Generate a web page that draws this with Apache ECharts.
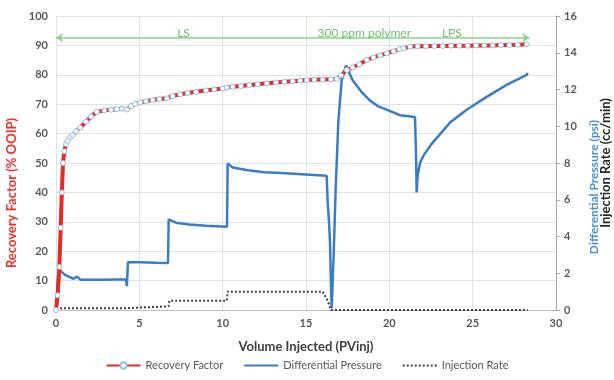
<!DOCTYPE html>
<html>
<head>
<meta charset="utf-8">
<script src="https://cdn.jsdelivr.net/npm/echarts@6/dist/echarts.min.js"></script>
<style>
  html, body { margin: 0; padding: 0; background: #fff; }
  #chart { width: 614px; height: 380px; }
</style>
</head>
<body>
<div id="chart"></div>
<script>
// recovery factor (% OOIP) vs PV injected
const rfX = [0, 0.1, 0.2, 0.28, 0.35, 0.42, 0.5, 0.6, 0.7, 0.85, 1.0, 1.2, 1.45, 1.8, 2.1, 2.45, 2.9, 3.3, 3.65, 3.95,
  4.25, 4.5, 4.75, 5.05, 5.4, 5.8, 6.2, 6.65, 7.0, 7.45, 7.9, 8.4, 9.0, 9.5, 10.0, 10.25, 10.6, 11.1, 11.6, 12.1,
  12.65, 13.2, 13.7, 14.2, 14.65, 15.05, 15.5, 16.0, 16.5, 16.85, 17.1, 17.45, 17.8, 18.2, 18.65, 19.05, 19.45, 19.85, 20.25, 20.6,
  20.85, 21.25, 21.7, 22.2, 22.7, 23.2, 23.7, 24.2, 24.7, 25.2, 25.7, 26.2, 26.7, 27.2, 27.7, 28.24];
const rfY = [0, 5, 14.7, 28, 40, 50, 54, 56.5, 57.5, 58.8, 59.5, 60.8, 62, 64, 65.8, 67.4, 67.9, 68.1, 68.3, 68.5,
  68.2, 69.4, 70.1, 70.6, 71.0, 71.4, 71.8, 72.0, 72.8, 73.4, 73.8, 74.2, 74.7, 75.0, 75.3, 75.7, 75.9, 76.2, 76.5, 76.8,
  77.1, 77.4, 77.6, 77.8, 78.0, 78.2, 78.3, 78.4, 78.5, 78.6, 79.8, 81.6, 82.5, 83.6, 85.0, 85.9, 86.6, 87.3, 88.0, 88.7,
  89.0, 89.6, 89.7, 89.7, 89.8, 89.8, 89.9, 89.9, 89.9, 90.0, 90.0, 90.0, 90.1, 90.1, 90.2, 90.4];

// differential pressure (psi)
const dpX = [0, 0.08, 0.16, 0.3, 0.56, 0.8, 1.06, 1.26, 1.46, 2.0, 3.0, 4.2, 4.25, 4.28, 4.32, 5.0, 6.0, 6.72, 6.76, 7.2,
  8.0, 9.0, 10.26, 10.3, 10.6, 11.5, 12.5, 13.5, 14.5, 15.5, 16.24, 16.3, 16.38, 16.44, 16.5, 16.54, 16.58, 16.66, 16.78, 16.94,
  17.14, 17.4, 17.8, 18.3, 18.84, 19.3, 19.84, 20.64, 21.54, 21.6, 21.64, 21.7, 21.84, 22.05, 22.5, 23.64, 24.64, 25.84, 27.04, 28.24, 28.3];
const dpY = [0, 1.2, 2.2, 2.1, 1.9, 1.8, 1.7, 1.82, 1.65, 1.65, 1.65, 1.67, 1.3, 1.3, 2.6, 2.6, 2.57, 2.56, 4.93, 4.75,
  4.65, 4.58, 4.53, 7.98, 7.75, 7.6, 7.5, 7.45, 7.4, 7.35, 7.3, 5.9, 4.8, 3.7, 1.2, 0.1, 0.1, 3.0, 6.6, 10.25,
  12.5, 13.3, 12.5, 11.9, 11.4, 11.1, 10.9, 10.6, 10.5, 8.5, 6.4, 7.3, 8.0, 8.4, 9.0, 10.2, 10.9, 11.6, 12.25, 12.8, 12.9];

// injection rate (cc/min)
const irX = [0, 4.25, 4.3, 6.75, 6.8, 10.25, 10.3, 16.0, 16.3, 16.5, 28.3];
const irY = [0.1, 0.1, 0.2, 0.2, 0.5, 0.5, 1.0, 1.0, 0.5, 0, 0];

// slug annotations
const slugNames = ['LS', '300 ppm polymer', 'LPS'];
const slugX = [7.65, 18.5, 23.75];
const slugY = [94.2, 94.2, 94.2];
const slugArrow = [0, 28.4];
const slugArrowY = 92.6;

const zip = (xs, ys) => xs.map((x, i) => [x, ys[i]]);

const chart = echarts.init(document.getElementById('chart'));
const tick = { color: '#595959', fontSize: 11, fontWeight: 'bold' };

chart.setOption({
  animation: false,
  textStyle: { fontFamily: 'Lato, sans-serif' },
  grid: { left: 56, right: 58, top: 16, bottom: 70, outerBoundsMode: 'none', containLabel: false },
  legend: {
    data: [
      { name: 'Recovery Factor' },
      { name: 'Differential Pressure', itemStyle: { opacity: 0 } },
      { name: 'Injection Rate', itemStyle: { opacity: 0 } }
    ],
    bottom: 4,
    itemWidth: 34,
    itemHeight: 8,
    itemGap: 20,
    textStyle: { color: '#595959', fontSize: 11 }
  },
  xAxis: {
    type: 'value',
    min: 0,
    max: 30,
    interval: 5,
    name: 'Volume Injected (PVinj)',
    nameLocation: 'middle',
    nameGap: 30,
    nameTextStyle: { color: '#404040', fontSize: 13, fontWeight: 'bold' },
    axisLine: { lineStyle: { color: '#bfbfbf' } },
    axisTick: { show: false },
    axisLabel: tick,
    splitLine: { lineStyle: { color: '#dbe2ec' } }
  },
  yAxis: [
    {
      type: 'value',
      min: 0,
      max: 100,
      interval: 10,
      name: 'Recovery Factor (% OOIP)',
      nameLocation: 'middle',
      nameGap: 31,
      nameRotate: 90,
      nameTextStyle: { color: '#e8312a', fontSize: 13, fontWeight: 'bold', padding: [0, 60, 0, 0] },
      axisLine: { show: false },
      axisTick: { show: false },
      axisLabel: tick,
      splitLine: { lineStyle: { color: '#dbe2ec' } }
    },
    {
      type: 'value',
      position: 'right',
      min: 0,
      max: 16,
      interval: 2,
      name: 'Differential Pressure (psi)',
      nameLocation: 'middle',
      nameGap: 26,
      nameRotate: 90,
      nameTextStyle: { color: '#4a8fd6', fontSize: 12, fontWeight: 'bold', padding: [0, 48, 0, 0] },
      axisLine: { show: true, lineStyle: { color: '#a6a6a6' } },
      axisTick: { show: true, length: 4, lineStyle: { color: '#a6a6a6' } },
      axisLabel: tick,
      splitLine: { show: false }
    },
    {
      type: 'value',
      position: 'right',
      min: 0,
      max: 16,
      interval: 2,
      name: 'Injection Rate (cc/min)',
      nameLocation: 'middle',
      nameGap: 43,
      nameRotate: 90,
      nameTextStyle: { color: '#262626', fontSize: 13, fontWeight: 'bold' },
      axisLine: { show: false },
      axisTick: { show: false },
      axisLabel: { show: false },
      splitLine: { show: false }
    }
  ],
  series: [
    {
      name: 'Recovery Factor',
      type: 'line',
      yAxisIndex: 0,
      data: zip(rfX, rfY),
      symbol: 'circle',
      symbolSize: 5,
      lineStyle: { color: '#e62a22', width: 4 },
      itemStyle: { color: '#ffffff', borderColor: '#8fc0e6', borderWidth: 1 },
      z: 4,
      markLine: {
        silent: true,
        symbol: ['arrow', 'arrow'],
        symbolSize: 7,
        label: { show: false },
        lineStyle: { color: '#8ccf8f', width: 1.5, type: 'solid' },
        data: [[{ coord: [slugArrow[0], slugArrowY] }, { coord: [slugArrow[1], slugArrowY] }]]
      }
    },
    {
      name: 'Differential Pressure',
      type: 'line',
      yAxisIndex: 1,
      data: zip(dpX, dpY),
      showSymbol: false,
      symbol: 'none',
      lineStyle: { color: '#3b7dc4', width: 2.5 },
      itemStyle: { color: '#3b7dc4' },
      z: 3
    },
    {
      name: 'Injection Rate',
      type: 'line',
      yAxisIndex: 2,
      data: zip(irX, irY),
      showSymbol: false,
      symbol: 'none',
      lineStyle: { color: '#404040', width: 2, type: [2, 2] },
      itemStyle: { color: '#404040' },
      z: 2
    },
    {
      name: 'slugs',
      type: 'scatter',
      yAxisIndex: 0,
      silent: true,
      symbolSize: 0,
      data: slugNames.map((n, i) => ({ name: n, value: [slugX[i], slugY[i]] })),
      label: {
        show: true,
        position: 'inside',
        formatter: '{b}',
        color: '#4cae4c',
        fontSize: 12
      },
      z: 5
    }
  ]
});
</script>
</body>
</html>
